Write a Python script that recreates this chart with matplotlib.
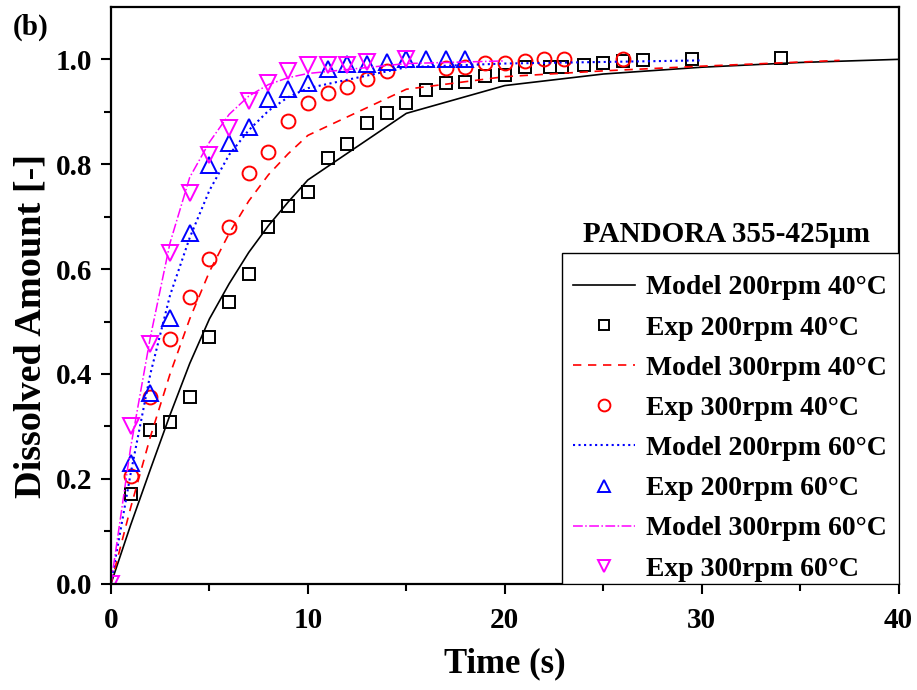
import matplotlib
matplotlib.use("Agg")
import matplotlib.pyplot as plt
from matplotlib.patches import Rectangle

plt.rcParams['font.family'] = ['Liberation Serif', 'DejaVu Serif']
plt.rcParams['font.weight'] = 'bold'

# ---- Model curves ----
m1_t = [0, 1, 2, 3, 4, 5, 6, 7, 8, 9, 10, 15, 20, 25, 30, 35, 40]
m1_y = [0, 0.112, 0.218, 0.322, 0.42, 0.505, 0.572, 0.632, 0.683, 0.728, 0.77, 0.897, 0.95, 0.972, 0.985, 0.994, 1.0]

m2_t = [0, 1, 2, 3, 4, 5, 6, 7, 8, 9, 10, 15, 20, 25, 30, 37]
m2_y = [0, 0.145, 0.28, 0.40, 0.505, 0.595, 0.668, 0.73, 0.78, 0.82, 0.855, 0.943, 0.967, 0.978, 0.987, 0.998]

m3_t = [0, 1, 2, 3, 4, 5, 6, 7, 8, 9, 10, 15, 20, 30]
m3_y = [0, 0.21, 0.40, 0.55, 0.66, 0.75, 0.818, 0.865, 0.902, 0.928, 0.945, 0.985, 0.992, 0.998]

m4_t = [0, 1, 2, 3, 4, 5, 6, 7, 8, 9, 10, 15, 20]
m4_y = [0, 0.26, 0.47, 0.65, 0.775, 0.842, 0.895, 0.93, 0.952, 0.965, 0.973, 0.992, 0.997]

# ---- Experimental data ----
e1_t = [1, 2, 3, 4, 5, 6, 7, 8, 9, 10, 11, 12, 13, 14, 15, 16, 17, 18, 19, 20, 21, 22.3, 22.9, 24, 25, 26, 27, 29.5, 34]
e1_y = [0.171, 0.293, 0.309, 0.357, 0.47, 0.537, 0.59, 0.68, 0.72, 0.747, 0.811, 0.838, 0.878, 0.897, 0.916, 0.942, 0.954, 0.956, 0.969, 0.971, 0.985, 0.985, 0.986, 0.99, 0.993, 0.996, 0.998, 1.0, 1.002]

e2_t = [1, 2, 3, 4, 5, 6, 7, 8, 9, 10, 11, 12, 13, 14, 17, 18, 19, 20, 21, 22, 23, 26]
e2_y = [0.205, 0.357, 0.467, 0.547, 0.62, 0.68, 0.783, 0.823, 0.882, 0.916, 0.935, 0.947, 0.962, 0.977, 0.984, 0.985, 0.993, 0.993, 0.997, 1.0, 1.0, 1.0]

e3_t = [1, 2, 3, 4, 5, 6, 7, 8, 9, 10, 11, 12, 13, 14, 15, 16, 17, 18]
e3_y = [0.23, 0.363, 0.506, 0.668, 0.798, 0.84, 0.871, 0.925, 0.943, 0.955, 0.982, 0.992, 0.992, 0.995, 1.0, 1.0, 1.0, 1.0]

e4_t = [0, 1, 2, 3, 4, 5, 6, 7, 8, 9, 10, 11, 12, 13, 15]
e4_y = [0, 0.30, 0.457, 0.63, 0.745, 0.817, 0.87, 0.92, 0.954, 0.977, 0.99, 0.99, 0.99, 0.995, 1.0]

labels = ["Model 200rpm 40°C", "Exp 200rpm 40°C",
          "Model 300rpm 40°C", "Exp 300rpm 40°C",
          "Model 200rpm 60°C", "Exp 200rpm 60°C",
          "Model 300rpm 60°C", "Exp 300rpm 60°C"]

fig = plt.figure(figsize=(9.17, 6.90), dpi=100)
ax = fig.add_axes([0.121, 0.154, 0.859, 0.836])

black = '#000000'
red = '#ff0000'
blue = '#0000ff'
mag = '#ff00ff'
ms = 10
mew = 1.4

ax.plot(m1_t, m1_y, '-', color=black, lw=1.2, label=labels[0])
ax.plot(e1_t, e1_y, 's', mfc='none', mec=black, ms=ms - 1, mew=mew, label=labels[1], clip_on=False)
ax.plot(m2_t, m2_y, '--', color=red, lw=1.2, dashes=(5, 4), label=labels[2])
ax.plot(e2_t, e2_y, 'o', mfc='none', mec=red, ms=ms, mew=mew, label=labels[3], clip_on=False)
ax.plot(m3_t, m3_y, ':', color=blue, lw=1.5, label=labels[4])
ax.plot(e3_t, e3_y, '^', mfc='none', mec=blue, ms=ms + 1, mew=mew, label=labels[5], clip_on=False)
ax.plot(m4_t, m4_y, '-.', color=mag, lw=1.1, label=labels[6])
ax.plot(e4_t, e4_y, 'v', mfc='none', mec=mag, ms=ms + 1, mew=mew, label=labels[7])

ax.set_xlim(0, 40)
ax.set_ylim(0, 1.1)
ax.set_xticks([0, 10, 20, 30, 40])
ax.set_xticks([5, 15, 25, 35], minor=True)
ax.set_yticks([0.0, 0.2, 0.4, 0.6, 0.8, 1.0])
ax.set_yticks([0.1, 0.3, 0.5, 0.7, 0.9], minor=True)
ax.set_yticklabels(['0.0', '0.2', '0.4', '0.6', '0.8', '1.0'])
ax.tick_params(which='major', direction='out', length=7.5, width=1.5, labelsize=21, top=False, right=False)
ax.tick_params(axis='y', which='major', pad=6)
ax.tick_params(axis='x', which='major', pad=9)
ax.tick_params(which='minor', direction='out', length=5, width=1.5, top=False, right=False)
for s in ax.spines.values():
    s.set_linewidth(1.6)

ax.set_xlabel("Time (s)", fontsize=25, fontweight='bold', labelpad=10)
ax.set_ylabel("Dissolved Amount [-]", fontsize=27.5, fontweight='bold')
ax.yaxis.set_label_coords(-0.079, 0.447)

# legend frame drawn explicitly
ax.add_patch(Rectangle((0.572, 0.0), 0.428, 0.573, transform=ax.transAxes,
                       fill=True, facecolor='white', edgecolor='black', lw=1.0, zorder=4))

leg = ax.legend(loc='lower left', bbox_to_anchor=(0.572, -0.0155), borderaxespad=0,
                frameon=False, fontsize=20,
                handlelength=2.25, labelspacing=0.53, markerscale=0.85,
                borderpad=0.4, handletextpad=0.4)
leg.set_zorder(5)
for t in leg.get_texts():
    t.set_fontweight('bold')

ax.text(0.782, 0.605, "PANDORA 355-425μm", transform=ax.transAxes,
        ha='center', va='center', fontsize=21, fontweight='bold')

fig.text(0.014, 0.961, "(b)", fontsize=21, fontweight='bold', ha='left', va='center')

fig.savefig("out.png", dpi=100)
